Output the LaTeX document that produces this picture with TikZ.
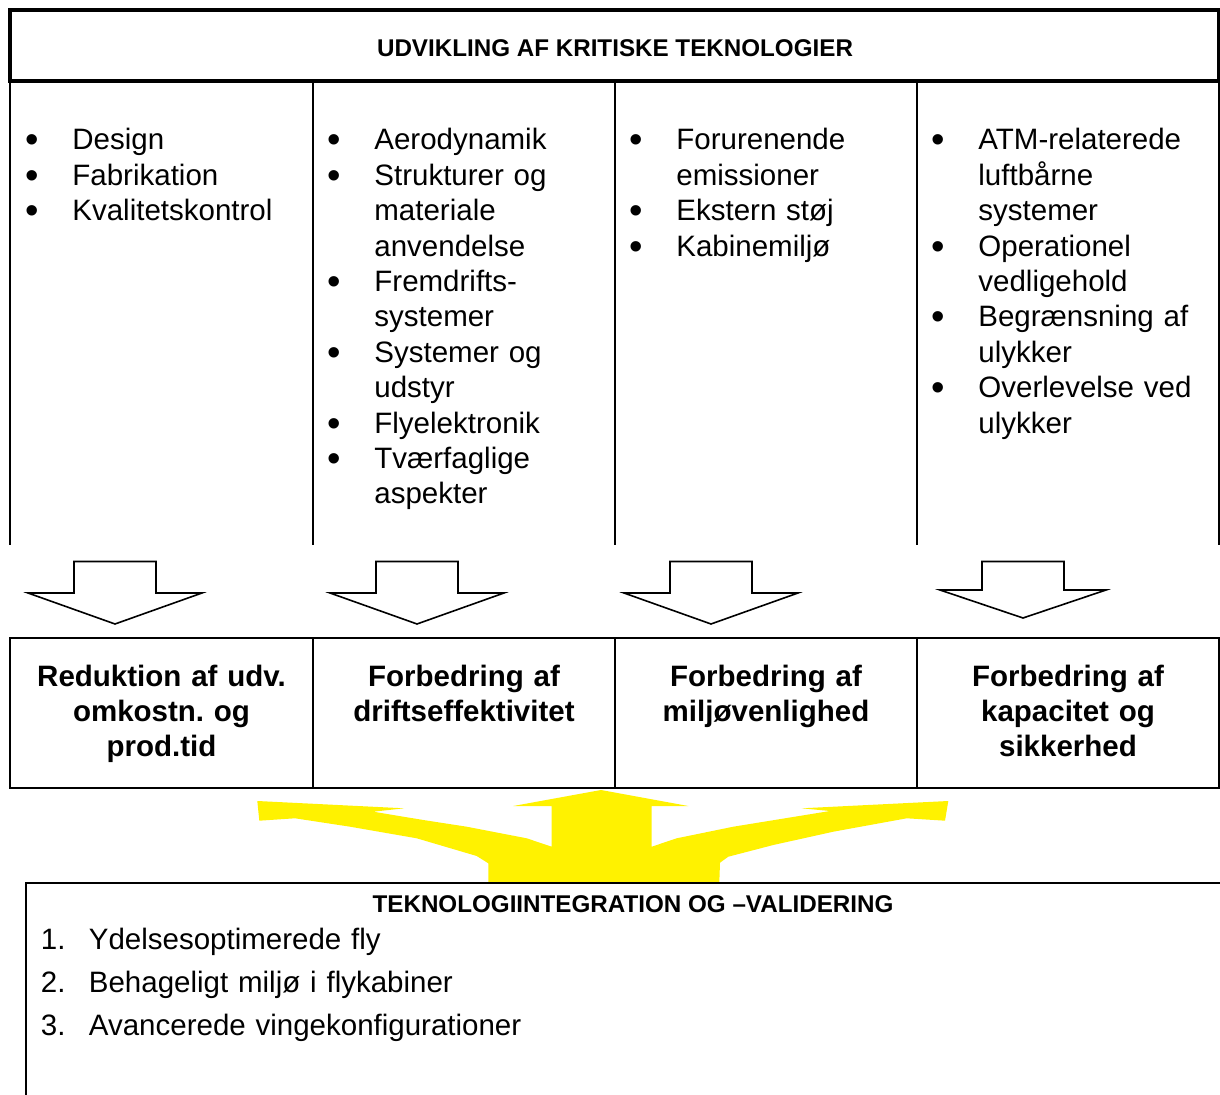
\documentclass[tikz,border=0pt]{standalone}
\usepackage{fontspec}
\setmainfont{Liberation Sans}
\usepackage{tikz}
\frenchspacing

\newcommand{\bulitem}{\makebox[23.5pt][l]{\raisebox{-1.5pt}{\scalebox{1.3}{\textbullet}}}}
\newcommand{\bulcont}{\hspace*{23.5pt}}
\newcommand{\numitem}[1]{\makebox[24pt][l]{#1}}

\begin{document}
\begin{tikzpicture}[x=0.5pt,y=-0.5pt,
		thickline/.style={line width=1.75pt},
		thinline/.style={line width=1pt},
		coltext/.style={anchor=base west, inner sep=0pt, text width=145pt, align=left, font=\fontsize{14.75}{17.7}\selectfont},
		goaltext/.style={anchor=base, inner sep=0pt, text width=145pt, align=center, font=\bfseries\fontsize{14.75}{17.5}\selectfont},
		headtext/.style={anchor=base, inner sep=0pt, font=\bfseries\fontsize{12.1}{14}\selectfont},
		downarrow/.style={line width=0.8pt, fill=white, line join=miter}]
			
			\useasboundingbox (0,0) rectangle (1220,1095);
			
			% yellow arrow
			\fill[yellow] (257.3,801) -- (404,808.3) -- (373.3,811.7) -- (423.3,820) -- (466.7,826.7) -- (526.7,838.3) -- (551.7,846.7)
				-- (551.7,806) -- (513.3,806) -- (601,790) -- (688.3,806) -- (651.7,806) -- (651.7,846.7)
				-- (676.7,838.3) -- (733.3,826.7) -- (830,811) -- (801.7,808.3) -- (948.3,801) -- (945,820.7) -- (906.7,818.3)
				-- (833.3,831.7) -- (773.3,845) -- (728.3,856.7) -- (720,862.7) -- (719.3,882.5) -- (488.3,882.5)
				-- (488.3,863.3) -- (476.7,856) -- (416.7,838.3) -- (350,826.7) -- (295,818.3) -- (259.3,820.7) -- cycle;
			
			% top table
			\draw[thickline] (10,10) rectangle (1219,81);
			\foreach \x in {10,313,615,917,1219}
				\draw[thinline] (\x,81) -- (\x,545);
			\node[headtext] (hdr) at (615,56.7) {UDVIKLING AF KRITISKE TEKNOLOGIER};
			
			%columns
			\node[coltext] (techA) at (25,150) {\bulitem Design\\ \bulitem Fabrikation\\ \bulitem Kvalitetskontrol};
			\node[coltext] (techB) at (327,150) {\bulitem Aerodynamik\\ \bulitem Strukturer og\\ \bulcont materiale\\ \bulcont anvendelse\\
				\bulitem Fremdrifts-\\ \bulcont systemer\\ \bulitem Systemer og\\ \bulcont udstyr\\ \bulitem Flyelektronik\\
				\bulitem Tværfaglige\\ \bulcont aspekter};
			\node[coltext] (techC) at (629,150) {\bulitem Forurenende\\ \bulcont emissioner\\ \bulitem Ekstern støj\\ \bulitem Kabinemiljø};
			\node[coltext] (techD) at (931,150) {\bulitem ATM-relaterede\\ \bulcont luftbårne\\ \bulcont systemer\\ \bulitem Operationel\\
				\bulcont vedligehold\\ \bulitem Begrænsning af\\ \bulcont ulykker\\ \bulitem Overlevelse ved\\ \bulcont ulykker};
			
			% down arrows
			\foreach \cx/\hw/\wy/\ty in {115/87/593/624, 417/87/593/624, 711/87/593/624, 1023/83/590/618}
				\draw[downarrow] (\cx-41,561.5) -- (\cx+41,561.5) -- (\cx+41,\wy) -- (\cx+\hw,\wy) -- (\cx,\ty) -- (\cx-\hw,\wy) -- (\cx-41,\wy) -- cycle;
			
			% goal boxes
			\draw[thinline] (10,638.5) rectangle (1219,788);
			\foreach \x in {313,615,917}
				\draw[thinline] (\x,638.5) -- (\x,788);
			\node[goaltext] (goalA) at (161.5,686.5) {Reduktion af udv.\\ omkostn. og\\ prod.tid};
			\node[goaltext] (goalB) at (464,686.5) {Forbedring af\\ driftseffektivitet};
			\node[goaltext] (goalC) at (766,686.5) {Forbedring af\\ miljøvenlighed};
			\node[goaltext] (goalD) at (1068,686.5) {Forbedring af\\ kapacitet og\\ sikkerhed};
			
			% integration box
			\draw[thinline] (1230,883) -- (26,883) -- (26,1105);
			\node[headtext] (inthdr) at (633,912.5) {TEKNOLOGIINTEGRATION OG \textendash VALIDERING};
			\node[coltext, text width=300pt, font=\fontsize{14.75}{21.65}\selectfont] (intlist) at (40.5,949.3)
				{\numitem{1.}Ydelsesoptimerede fly\\ \numitem{2.}Behageligt miljø i flykabiner\\ \numitem{3.}Avancerede vingekonfigurationer};
			
\end{tikzpicture}
\end{document}
